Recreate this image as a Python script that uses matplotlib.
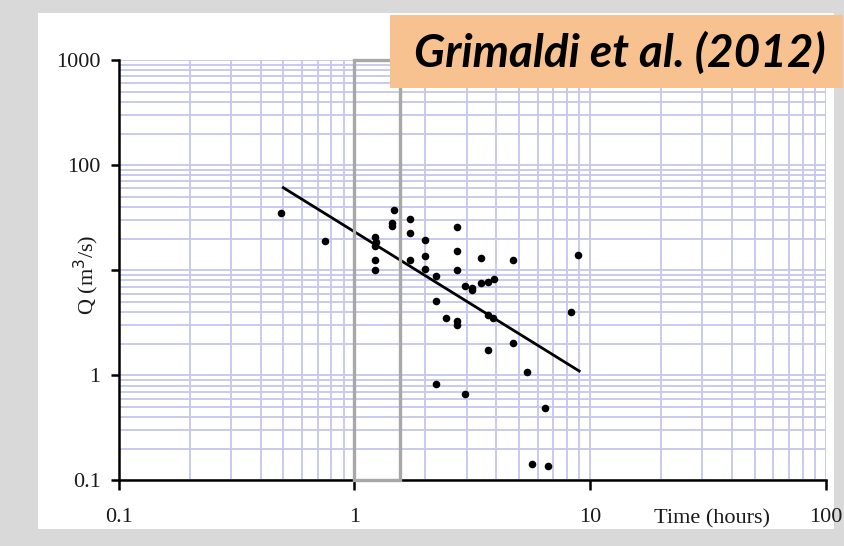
import matplotlib
matplotlib.use("Agg")
import matplotlib.pyplot as plt
from matplotlib.patches import Rectangle

# storm duration (hours) vs peak discharge (m3/s)
time_h = [0.49, 0.75, 1.23, 1.24, 1.22, 1.23, 1.23, 1.47, 1.45, 1.45, 1.73, 1.73, 1.73,
          1.99, 1.99, 1.99, 2.23, 2.23, 2.23, 2.44, 2.72, 2.72, 2.72, 2.72, 2.72,
          2.96, 2.96, 3.15, 3.15, 3.44, 3.44, 3.68, 3.93, 3.68, 3.86, 3.68,
          4.70, 4.70, 5.43, 5.68, 6.45, 6.62, 8.28, 8.90]
peak_q = [34.8, 18.8, 20.7, 18.5, 16.9, 12.6, 10.0, 37.3, 28.2, 26.1, 30.8, 22.7, 12.5,
          19.2, 13.8, 10.2, 8.75, 5.05, 0.83, 3.53, 26.0, 15.3, 10.0, 3.32, 3.03,
          0.66, 7.1, 6.84, 6.5, 13.1, 7.57, 7.69, 8.28, 3.72, 3.53, 1.73,
          12.4, 2.05, 1.07, 0.145, 0.484, 0.136, 4.02, 13.9]

# power-law fit, end points
fit_t = [0.50, 9.0]
fit_q = [61.0, 1.1]

# highlighted duration band
band = (1.0, 1.56)

xticks = [0.1, 1, 10, 100]
xtick_labels = ["0.1", "1", "10", "100"]
yticks = [0.1, 1, 10, 100, 1000]
ytick_labels = ["0.1", "1", "", "100", "1000"]

serif = ["Liberation Serif", "DejaVu Serif"]
grid_col = "#c6c6ee"
txt_col = "#1a1a1a"

fig = plt.figure(figsize=(8.45, 5.46), dpi=100)
fig.patch.set_facecolor("#d9d9d9")
fig.patches.append(Rectangle((0.045, 0.031), 0.942, 0.945, transform=fig.transFigure,
                             facecolor="white", edgecolor="none", zorder=-1))

ax = fig.add_axes([0.1404, 0.12, 0.8367, 0.770])
ax.set_xscale("log")
ax.set_yscale("log")
ax.set_xlim(0.1, 100)
ax.set_ylim(0.1, 1000)
ax.set_facecolor("white")

ax.grid(True, which="both", color=grid_col, linewidth=1.3)
ax.set_axisbelow(True)

for s in ["top", "right"]:
    ax.spines[s].set_visible(False)
for s in ["left", "bottom"]:
    ax.spines[s].set_linewidth(1.8)
    ax.spines[s].set_color("black")

ax.set_xticks(xticks)
ax.set_xticklabels(xtick_labels, family=serif, fontsize=16, color=txt_col)
ax.set_yticks(yticks)
ax.set_yticklabels(ytick_labels, family=serif, fontsize=16, color=txt_col)
ax.tick_params(which="minor", length=0)
ax.tick_params(axis="x", which="major", length=7, width=1.8, pad=13)
ax.tick_params(axis="y", which="major", length=6, width=1.8, pad=7)

ax.scatter(time_h, peak_q, s=30, color="black", zorder=3, linewidths=0)
ax.plot(fit_t, fit_q, color="black", linewidth=2, zorder=3)

ax.add_patch(Rectangle((band[0], 0.1), band[1] - band[0], 1000 - 0.1,
                       facecolor="none", edgecolor="#a8a8a8", linewidth=2.4,
                       zorder=4, clip_on=False))

ax.text(-0.045, 0.489, "Q (m$^3$/s)", transform=ax.transAxes, rotation=90,
        ha="center", va="center", family=serif, fontsize=16, color=txt_col)
ax.text(0.839, -0.092, "Time (hours)", transform=ax.transAxes,
        ha="center", va="center", family=serif, fontsize=16, color=txt_col)

# citation tag
fig.patches.append(Rectangle((0.4615, 0.8388), 0.536, 0.1337, transform=fig.transFigure,
                             facecolor="#f8c190", edgecolor="none", zorder=5))
fig.text(0.734, 0.903, "Grimaldi et al. (2012)", ha="center", va="center",
         family=["Lato", "DejaVu Sans"], fontweight="bold", fontstyle="italic",
         fontsize=33, color="black", zorder=6)

fig.savefig("out.png", dpi=100, facecolor=fig.get_facecolor())
